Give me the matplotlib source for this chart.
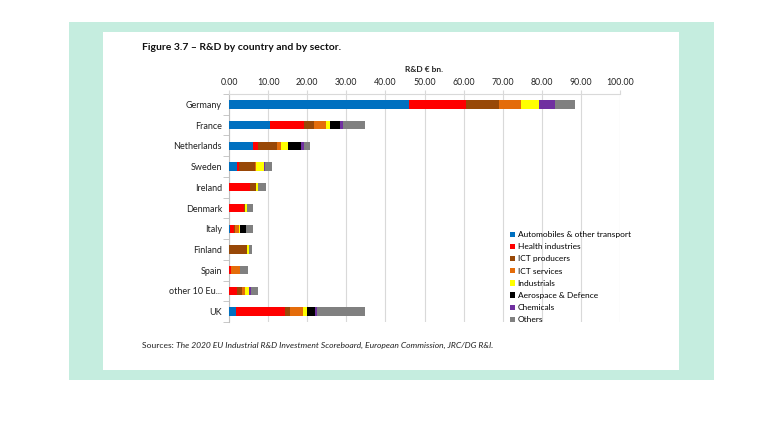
import matplotlib
matplotlib.use("Agg")
import matplotlib.pyplot as plt
from matplotlib.patches import Rectangle
import numpy as np

plt.rcParams['font.family'] = ['Lato', 'DejaVu Sans']

countries = ["Germany", "France", "Netherlands", "Sweden", "Ireland", "Denmark",
             "Italy", "Finland", "Spain", "other 10 Eu...", "UK"]

sectors = ["Automobiles & other transport", "Health industries", "ICT producers",
           "ICT services", "Industrials", "Aerospace & Defence", "Chemicals", "Others"]

auto = [46.1, 10.5, 6.2, 2.0, 0.0, 0.0, 0.3, 0.0, 0.0, 0.0, 1.7]
health = [14.5, 8.8, 1.2, 0.6, 5.3, 3.8, 0.9, 0.0, 0.5, 2.1, 12.6]
ict_prod = [8.5, 2.4, 5.0, 4.0, 1.5, 0.3, 0.3, 4.7, 0.0, 1.1, 1.2]
ict_serv = [5.6, 3.0, 0.8, 0.2, 0.1, 0.1, 1.0, 0.0, 2.2, 0.9, 3.5]
industrials = [4.5, 1.2, 1.8, 2.1, 0.5, 0.4, 0.3, 0.4, 0.0, 0.9, 1.0]
aero = [0.1, 2.6, 3.5, 0.1, 0.0, 0.0, 1.5, 0.0, 0.0, 0.0, 2.0]
chem = [4.0, 0.6, 0.7, 0.2, 0.0, 0.0, 0.0, 0.0, 0.0, 0.5, 0.6]
others = [5.3, 5.6, 1.5, 1.8, 2.1, 1.6, 1.9, 0.8, 2.1, 1.9, 12.1]

colors = ["#0070C0", "#FF0000", "#984807", "#E46C0A", "#FFFF00", "#000000", "#7030A0", "#808080"]

W, H = 778, 421
fig = plt.figure(figsize=(W / 100, H / 100), dpi=100)
fig.patch.set_facecolor("white")

# mint frame and white page behind everything
fig.patches.append(Rectangle((69 / W, 1 - 380 / H), (714 - 69) / W, (380 - 22) / H,
                             transform=fig.transFigure, facecolor="#C5EDDF", edgecolor="none", zorder=-20))
fig.patches.append(Rectangle((103 / W, 1 - 370 / H), (679 - 103) / W, (370 - 32) / H,
                             transform=fig.transFigure, facecolor="white", edgecolor="none", zorder=-10))

ax = fig.add_axes([229 / W, 1 - 322 / H, (620 - 229) / W, (322 - 94) / H])
ax.set_facecolor("none")

y = np.arange(len(countries))
left = np.zeros(len(countries))
for vals, name, c in zip([auto, health, ict_prod, ict_serv, industrials, aero, chem, others],
                         sectors, colors):
    ax.barh(y, vals, left=left, height=0.4, color=c, label=name, zorder=3)
    left += np.array(vals)

ax.set_xlim(0, 100)
ax.set_ylim(len(countries) - 0.5, -0.5)
ax.set_xticks(np.arange(0, 101, 10))
ax.set_xticklabels(["%.2f" % v for v in range(0, 101, 10)])
ax.xaxis.tick_top()
ax.tick_params(axis="x", length=3, color="#D9D9D9", labelsize=6.3, pad=2, labelcolor="#222222")
ax.grid(axis="x", color="#D9D9D9", linewidth=0.8, zorder=0)

ax.set_yticks(y)
ax.set_yticklabels(countries)
ax.set_yticks(np.arange(-0.5, len(countries)), minor=True)
ax.tick_params(axis="y", which="major", length=0, labelsize=6.5, pad=5, labelcolor="#222222")
ax.tick_params(axis="y", which="minor", length=4, color="#BFBFBF")

for s in ["right", "bottom"]:
    ax.spines[s].set_visible(False)
ax.spines["top"].set_color("#D9D9D9")
ax.spines["left"].set_color("#BFBFBF")

fig.text(424 / W, 1 - 70 / H, "R&D € bn.", fontsize=6, fontweight="bold",
         ha="center", va="center", color="#222222")
fig.text(142 / W, 1 - 48 / H, "Figure 3.7 – R&D by country and by sector.", fontsize=7.5,
         fontweight="bold", ha="left", va="center", color="#111111")

leg = fig.legend(loc="upper left", bbox_to_anchor=(506 / W, 1 - 227 / H), frameon=False,
                 fontsize=6.0, handlelength=0.6, handleheight=0.6, handletextpad=0.3,
                 labelspacing=0.62, borderpad=0)

t1 = fig.text(142 / W, 1 - 345 / H, "Sources: ", fontsize=6.1, ha="left", va="center", color="#222222")
r = fig.canvas.get_renderer()
bb = t1.get_window_extent(renderer=r)
fig.text(bb.x1 / W, 1 - 345 / H,
         "The 2020 EU Industrial R&D Investment Scoreboard, European Commission, JRC/DG R&I.",
         fontsize=6.1, style="italic", ha="left", va="center", color="#222222")

fig.savefig("out.png", dpi=100, facecolor="white")
